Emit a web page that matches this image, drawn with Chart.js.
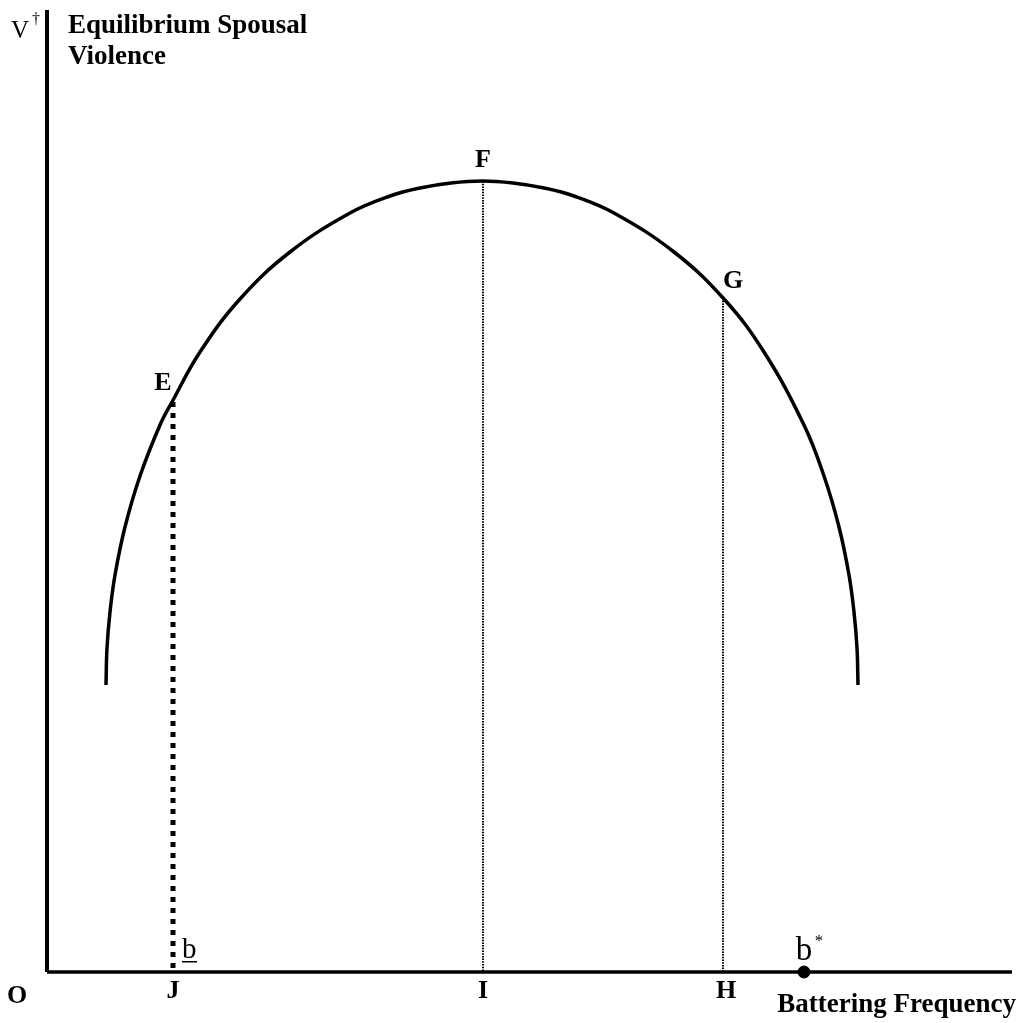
<!DOCTYPE html>
<html>
<head>
<meta charset="utf-8">
<script src="https://cdn.jsdelivr.net/npm/chart.js@4.4.1/dist/chart.umd.min.js"></script>
<style>
  html, body { margin: 0; padding: 0; background: #fff; }
  canvas { display: block; }
</style>
</head>
<body>
<canvas id="chart" width="1024" height="1023"></canvas>
<script>
// ==================== DATA ====================
// violence curve (battering frequency -> equilibrium violence)
const curveX = [59, 60, 63, 68, 78, 93, 113, 125, 153, 193, 243, 303, 343, 373, 404, 435, 466, 497, 527, 567, 627, 677, 717, 757, 777, 792, 802, 807, 810, 811];
const curveY = [287, 324, 360, 397, 445, 496, 547, 570, 620, 673, 720, 759, 776, 784, 789, 791, 789, 784, 776, 759, 720, 673, 620, 547, 496, 445, 397, 360, 324, 287];

// drop lines from the curve down to the axis
const dropX = [126, 436, 676];
const dropTop = [570, 791, 674];
const curveLabels = ['E', 'F', 'G'];
const axisLabels = ['J', 'I', 'H'];

const bStarX = 757;
const xMax = 965, yMax = 962;

// ==================== CHART ====================
const curvePts = curveX.map((x, i) => ({ x: x, y: curveY[i] }));
const dropSets = dropX.map((x, i) => ({
    data: [{ x: x, y: dropTop[i] }, { x: x, y: 0 }],
    borderColor: '#000',
    borderWidth: i === 0 ? 5 : 2,
    borderDash: i === 0 ? [5, 6] : [1.5, 1.2],
    pointRadius: 0,
    clip: false
}));

const labelPlugin = {
    id: 'labels',
    afterDatasetsDraw(chart) {
        const ctx = chart.ctx;
        const xs = chart.scales.x, ys = chart.scales.y;
        ctx.save();
        ctx.fillStyle = '#000';
        ctx.textBaseline = 'alphabetic';

        // point labels on the curve
        ctx.font = 'bold 26px "Liberation Serif"';
        ctx.textAlign = 'center';
        const off = [[-10, -12], [0, -14], [10, -10]];
        dropX.forEach((x, i) => {
            ctx.fillText(curveLabels[i], xs.getPixelForValue(x) + off[i][0], ys.getPixelForValue(dropTop[i]) + off[i][1]);
            ctx.fillText(axisLabels[i], xs.getPixelForValue(x) + (i === 2 ? 3 : 0), ys.getPixelForValue(0) + 26);
        });
        ctx.fillText('O', 17, 1003);

        ctx.font = 'bold 27px "Liberation Serif"';
        ctx.textAlign = 'left';
        ctx.fillText('Equilibrium Spousal', 68, 33);
        ctx.fillText('Violence', 68, 64);
        ctx.textAlign = 'right';
        ctx.fillText('Battering Frequency', 1016, 1012);

        // V dagger
        ctx.textAlign = 'center';
        ctx.font = '25px "Liberation Serif"';
        ctx.fillText('V', 20, 38);
        ctx.font = '16px "Liberation Serif"';
        ctx.fillText('\u2020', 36, 24);

        // b underline and b*
        const jx = xs.getPixelForValue(dropX[0]);
        ctx.textAlign = 'left';
        ctx.font = '29px "Liberation Serif"';
        ctx.fillText('b', jx + 9, 958);
        ctx.fillRect(jx + 9, 961, 15, 1.5);
        const bx = xs.getPixelForValue(bStarX);
        ctx.font = '33px "Liberation Serif"';
        ctx.textAlign = 'center';
        ctx.fillText('b', bx, 960);
        ctx.font = '17px "Liberation Serif"';
        ctx.fillText('*', bx + 15, 946);
        ctx.restore();
    }
};

new Chart(document.getElementById('chart'), {
    type: 'line',
    data: {
        datasets: [
            {
                data: curvePts,
                borderColor: '#000',
                borderWidth: 3.5,
                tension: 0.4,
                pointRadius: 0,
                clip: false
            },
            ...dropSets,
            {   // y axis
                data: [{ x: 0, y: 0 }, { x: 0, y: yMax }],
                borderColor: '#000', borderWidth: 4, pointRadius: 0, clip: false
            },
            {   // x axis
                data: [{ x: 0, y: 0 }, { x: xMax, y: 0 }],
                borderColor: '#000', borderWidth: 3.5, pointRadius: 0, clip: false
            },
            {   // b* point
                data: [{ x: bStarX, y: 0 }],
                showLine: false, pointRadius: 6,
                pointBackgroundColor: '#000', pointBorderColor: '#000', clip: false
            }
        ]
    },
    options: {
        responsive: false,
        animation: false,
        layout: { padding: { left: 47, right: 12, top: 10, bottom: 51 } },
        scales: {
            x: { type: 'linear', min: 0, max: xMax, display: false },
            y: { type: 'linear', min: 0, max: yMax, display: false }
        },
        plugins: { legend: { display: false }, tooltip: { enabled: false } }
    },
    plugins: [labelPlugin]
});
</script>
</body>
</html>
